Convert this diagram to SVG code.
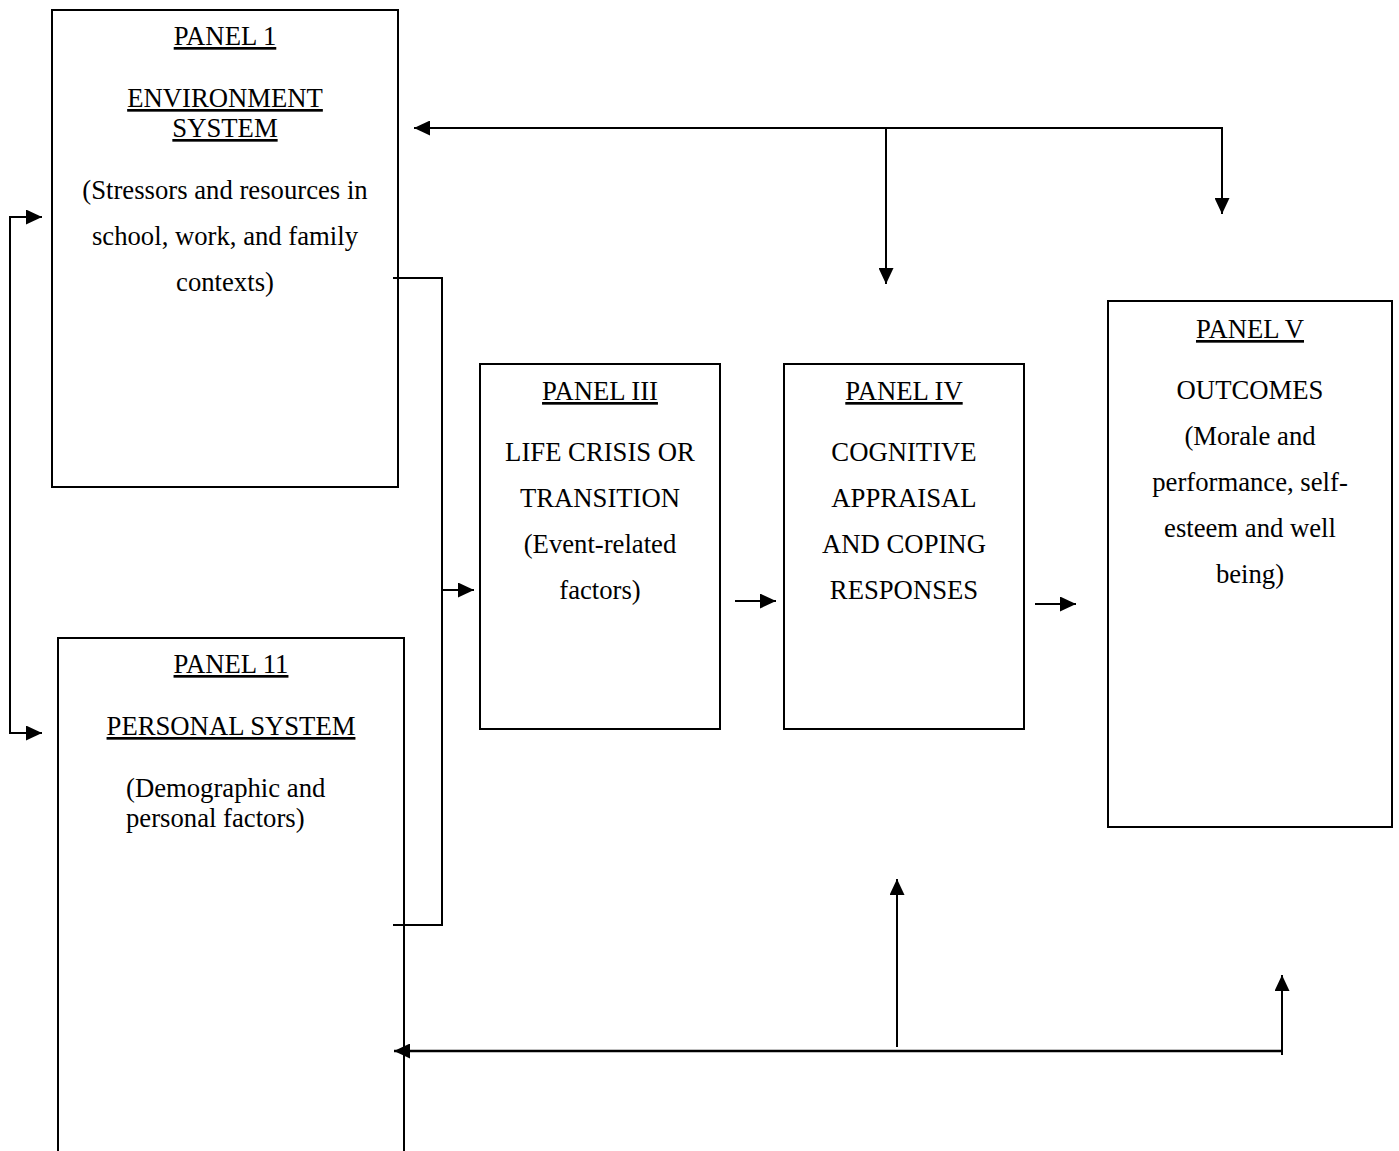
<svg xmlns="http://www.w3.org/2000/svg" width="1399" height="1151" viewBox="0 0 1399 1151">
  <style>
    .box { fill: #fff; stroke: #000; stroke-width: 2; }
    .t { font-family: "Liberation Serif", "Times New Roman", serif; font-size: 26.7px; fill: #000; text-anchor: middle; }
    .u { text-decoration: underline; }
    .l { text-anchor: start; }
    .c { fill: none; stroke: #000; stroke-width: 2; }
    .thick { stroke-width: 2.6; }
  </style>
  <defs>
    <marker id="ah" markerUnits="userSpaceOnUse" markerWidth="16" markerHeight="15" refX="16" refY="7.5" orient="auto">
      <path d="M0,0 L16,7.5 L0,15 Z" fill="#000"/>
    </marker>
  </defs>
  <rect width="1399" height="1151" fill="#fff"/>

  <!-- Panel I: environment system -->
  <g id="panel1">
    <rect class="box" x="52" y="10" width="346" height="477"/>
    <text class="t u" x="225" y="45">PANEL 1</text>
    <text class="t u" x="225" y="107">ENVIRONMENT</text>
    <text class="t u" x="225" y="137">SYSTEM</text>
    <text class="t" x="225" y="199">(Stressors and resources in</text>
    <text class="t" x="225" y="245">school, work, and family</text>
    <text class="t" x="225" y="291">contexts)</text>
  </g>

  <!-- Panel II: personal system -->
  <g id="panel2">
    <rect class="box" x="58" y="638" width="346" height="530"/>
    <text class="t u" x="231" y="673">PANEL 11</text>
    <text class="t u" x="231" y="735">PERSONAL SYSTEM</text>
    <text class="t l" x="126" y="797">(Demographic and</text>
    <text class="t l" x="126" y="827">personal factors)</text>
  </g>

  <!-- Panel III: life crisis or transition -->
  <g id="panel3">
    <rect class="box" x="480" y="364" width="240" height="365"/>
    <text class="t u" x="600" y="400">PANEL III</text>
    <text class="t" x="600" y="461">LIFE CRISIS OR</text>
    <text class="t" x="600" y="507">TRANSITION</text>
    <text class="t" x="600" y="553">(Event-related</text>
    <text class="t" x="600" y="599">factors)</text>
  </g>

  <!-- Panel IV: cognitive appraisal -->
  <g id="panel4">
    <rect class="box" x="784" y="364" width="240" height="365"/>
    <text class="t u" x="904" y="400">PANEL IV</text>
    <text class="t" x="904" y="461">COGNITIVE</text>
    <text class="t" x="904" y="507">APPRAISAL</text>
    <text class="t" x="904" y="553">AND COPING</text>
    <text class="t" x="904" y="599">RESPONSES</text>
  </g>

  <!-- Panel V: outcomes -->
  <g id="panel5">
    <rect class="box" x="1108" y="301" width="284" height="526"/>
    <text class="t u" x="1250" y="338">PANEL V</text>
    <text class="t" x="1250" y="399">OUTCOMES</text>
    <text class="t" x="1250" y="445">(Morale and</text>
    <text class="t" x="1250" y="491">performance, self-</text>
    <text class="t" x="1250" y="537">esteem and well</text>
    <text class="t" x="1250" y="583">being)</text>
  </g>

  <g id="connectors">
    <!-- left bracket linking panels I and II -->
    <polyline class="c" points="10,733 10,217"/>
    <line class="c" x1="9" y1="217" x2="42" y2="217" marker-end="url(#ah)"/>
    <line class="c" x1="9" y1="733" x2="42" y2="733" marker-end="url(#ah)"/>

    <!-- panels I and II into panel III -->
    <polyline class="c" points="393,278 442,278 442,925 393,925"/>
    <line class="c" x1="442" y1="590" x2="474" y2="590" marker-end="url(#ah)"/>

    <!-- forward arrows -->
    <line class="c" x1="735" y1="601" x2="776" y2="601" marker-end="url(#ah)"/>
    <line class="c" x1="1035" y1="604" x2="1076" y2="604" marker-end="url(#ah)"/>

    <!-- top feedback -->
    <line class="c" x1="1223" y1="128" x2="414" y2="128" marker-end="url(#ah)"/>
    <line class="c" x1="886" y1="127" x2="886" y2="284" marker-end="url(#ah)"/>
    <line class="c" x1="1222" y1="127" x2="1222" y2="214" marker-end="url(#ah)"/>

    <!-- bottom feedback -->
    <line class="c thick" x1="1283" y1="1051" x2="394" y2="1051" marker-end="url(#ah)"/>
    <line class="c" x1="897" y1="1047" x2="897" y2="879" marker-end="url(#ah)"/>
    <line class="c" x1="1282" y1="1055" x2="1282" y2="975" marker-end="url(#ah)"/>
  </g>
</svg>
